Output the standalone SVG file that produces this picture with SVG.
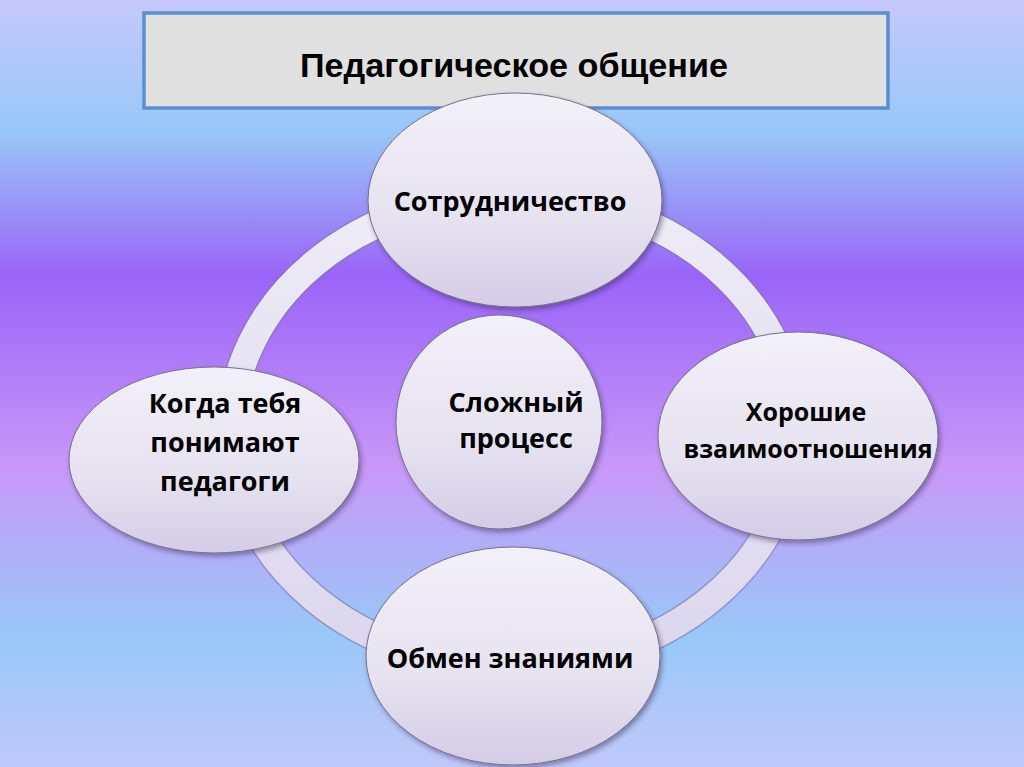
<svg xmlns="http://www.w3.org/2000/svg" width="1024" height="767" viewBox="0 0 1024 767">
  <defs>
    <linearGradient id="bg" x1="0" y1="0" x2="0" y2="1">
      <stop offset="0" stop-color="#c6c8fa"/>
      <stop offset="0.17" stop-color="#98c8f8"/>
      <stop offset="0.36" stop-color="#9a64f8"/>
      <stop offset="0.61" stop-color="#c898f8"/>
      <stop offset="0.83" stop-color="#98c8f8"/>
      <stop offset="1" stop-color="#c0c8fa"/>
    </linearGradient>
    <linearGradient id="nodeFill" x1="0" y1="0" x2="0" y2="1">
      <stop offset="0" stop-color="#f2f0f8"/>
      <stop offset="0.6" stop-color="#e6e2f0"/>
      <stop offset="1" stop-color="#d4cce6"/>
    </linearGradient>
    <linearGradient id="ringFill" x1="0" y1="0" x2="0" y2="1">
      <stop offset="0" stop-color="#eeecf6"/>
      <stop offset="1" stop-color="#dcd6ee"/>
    </linearGradient>
    <filter id="shadow" x="-10%" y="-10%" width="125%" height="125%">
      <feDropShadow dx="2" dy="3" stdDeviation="2.5" flood-color="#302850" flood-opacity="0.45"/>
    </filter>
  </defs>
  <style>
    .node { fill: url(#nodeFill); stroke: #77708a; stroke-width: 1; filter: url(#shadow); }
    .label { font-family: "Open Sans", "Noto Sans", sans-serif; font-weight: bold; fill: #000; text-anchor: middle; }
    .title { font-family: "Liberation Sans", Arial, sans-serif; font-weight: bold; font-size: 34px; fill: #000; text-anchor: middle; }
  </style>

  <rect x="0" y="0" width="1024" height="767" fill="url(#bg)"/>

  <g id="node-title">
    <rect x="144" y="13" width="744" height="95" fill="#e0e0e0" stroke="#5a8ed2" stroke-width="3.5"/>
    <text class="title" x="514" y="77" textLength="428" lengthAdjust="spacingAndGlyphs">Педагогическое общение</text>
  </g>

  <g id="connectors">
    <ellipse cx="513" cy="431" rx="282" ry="236" fill="none" stroke="#7f76a0" stroke-opacity="0.55" stroke-width="30"/>
    <ellipse cx="513" cy="431" rx="282" ry="236" fill="none" stroke="url(#ringFill)" stroke-width="27"/>
  </g>

  <g id="node-cooperation">
    <ellipse class="node" cx="515" cy="200" rx="147" ry="107"/>
    <text class="label" x="510" y="211" font-size="27">Сотрудничество</text>
  </g>

  <g id="node-understanding">
    <ellipse class="node" cx="214" cy="460" rx="145" ry="93"/>
    <text class="label" x="225" y="413" font-size="27">Когда тебя</text>
    <text class="label" x="225" y="452" font-size="27">понимают</text>
    <text class="label" x="225" y="491" font-size="27">педагоги</text>
  </g>

  <g id="node-relations">
    <ellipse class="node" cx="798" cy="436" rx="140" ry="104"/>
    <text class="label" x="806" y="421" font-size="25">Хорошие</text>
    <text class="label" x="808" y="458" font-size="25">взаимоотношения</text>
  </g>

  <g id="node-complex">
    <ellipse class="node" cx="499" cy="422" rx="103" ry="107"/>
    <text class="label" x="516" y="412" font-size="27">Сложный</text>
    <text class="label" x="516" y="448" font-size="27">процесс</text>
  </g>

  <g id="node-exchange">
    <ellipse class="node" cx="513" cy="656" rx="147" ry="109"/>
    <text class="label" x="510" y="668" font-size="27">Обмен знаниями</text>
  </g>
</svg>
